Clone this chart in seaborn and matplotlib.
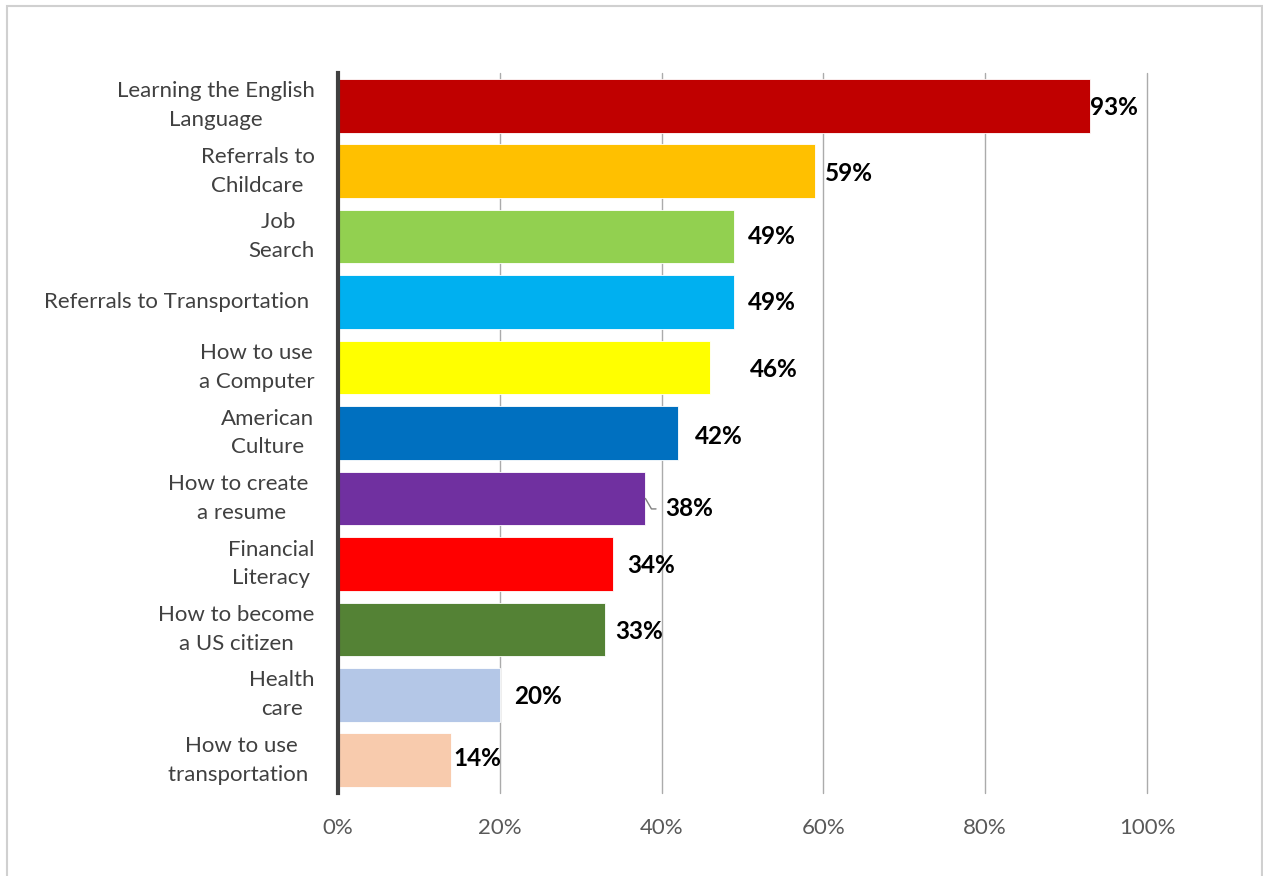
import matplotlib
matplotlib.use("Agg")
import matplotlib.pyplot as plt
import matplotlib.patches as mpatches
import seaborn as sns
import pandas as pd

# Topics of interest and the share of respondents choosing each one
topics = [
    "Learning the English\nLanguage",
    "Referrals to\nChildcare",
    "Job \nSearch",
    "Referrals to Transportation ",
    "How to use\na Computer",
    "American\nCulture",
    "How to create \na resume",
    "Financial\nLiteracy",
    "How to become\na US citizen",
    "Health\ncare",
    "How to use\ntransportation ",
]
shares = [93, 59, 49, 49, 46, 42, 38, 34, 33, 20, 14]
bar_colors = [
    "#C00000", "#FFC000", "#92D050", "#00B0F0", "#FFFF00", "#0070C0",
    "#7030A0", "#FF0000", "#548235", "#B4C7E7", "#F8CBAD",
]
x_ticks = [0, 20, 40, 60, 80, 100]
x_tick_labels = ["0%", "20%", "40%", "60%", "80%", "100%"]

# Label placement tweaks (horizontal gap in % units, vertical shift in rows)
label_dx = [0.0, 1.2, 1.7, 1.7, 4.9, 2.1, 2.4, 1.8, 1.3, 1.8, 0.3]
label_dy = [0.03, 0.03, 0.0, 0.0, 0.03, 0.05, 0.16, 0.02, 0.03, 0.02, -0.03]

df = pd.DataFrame({"topic": topics, "share": shares})

sns.set_style("white")
plt.rcParams["font.family"] = ["Lato", "DejaVu Sans"]

fig = plt.figure(figsize=(12.63, 8.76), dpi=100)
ax = fig.add_axes([338 / 1263, 1 - 793 / 876, (1147 - 338) / 1263, (793 - 73) / 876])

sns.barplot(
    data=df, x="share", y="topic", hue="topic", palette=bar_colors,
    orient="h", width=0.82, legend=False, ax=ax, zorder=3, saturation=1,
    edgecolor="white", linewidth=0.6,
)

ax.set_xlim(0, 100)
ax.set_ylim(len(topics) - 0.5, -0.5)
ax.set_xticks(x_ticks)
ax.set_xticklabels(x_tick_labels)
ax.set_xlabel("")
ax.set_ylabel("")

ax.xaxis.grid(True, color="#ABABAB", linewidth=1.0, zorder=0)
for gl in ax.get_xgridlines():
    gl.set_clip_on(False)
ax.yaxis.grid(False)
for side in ("top", "right", "bottom"):
    ax.spines[side].set_visible(False)
ax.spines["left"].set_color("#404040")
ax.spines["left"].set_linewidth(3)
ax.spines["left"].set_zorder(4)

ax.tick_params(axis="x", length=0, pad=18, labelsize=16, labelcolor="#595959")
ax.tick_params(axis="y", length=0, pad=17, labelsize=16, labelcolor="#404040")
for lbl in ax.get_yticklabels():
    lbl.set_multialignment("center")
    lbl.set_linespacing(1.55)
    lbl.set_verticalalignment("center")

# Value labels beside each bar
for i, v in enumerate(shares):
    if i == 6:
        ax.annotate(
            f"{v}%", xy=(v, i), xytext=(v + label_dx[i], i + label_dy[i]),
            ha="left", va="center", fontsize=17.5, fontweight="bold", color="black",
            arrowprops=dict(arrowstyle="-", color="#808080", lw=1,
                            connectionstyle="angle,angleA=0,angleB=-60",
                            relpos=(0, 0.5), shrinkA=4, shrinkB=0),
            zorder=5,
        )
    else:
        ax.text(v + label_dx[i], i + label_dy[i], f"{v}%", ha="left", va="center",
                fontsize=17.5, fontweight="bold", color="black", zorder=5)

# Chart area frame
frame = mpatches.Rectangle(
    (7 / 1263, -0.05), (1262 - 7) / 1263, 1.05 - 6 / 876,
    transform=fig.transFigure, fill=False, edgecolor="#D0D0D0", linewidth=1.5,
)
fig.patches.append(frame)

fig.savefig("out.png", dpi=100)
